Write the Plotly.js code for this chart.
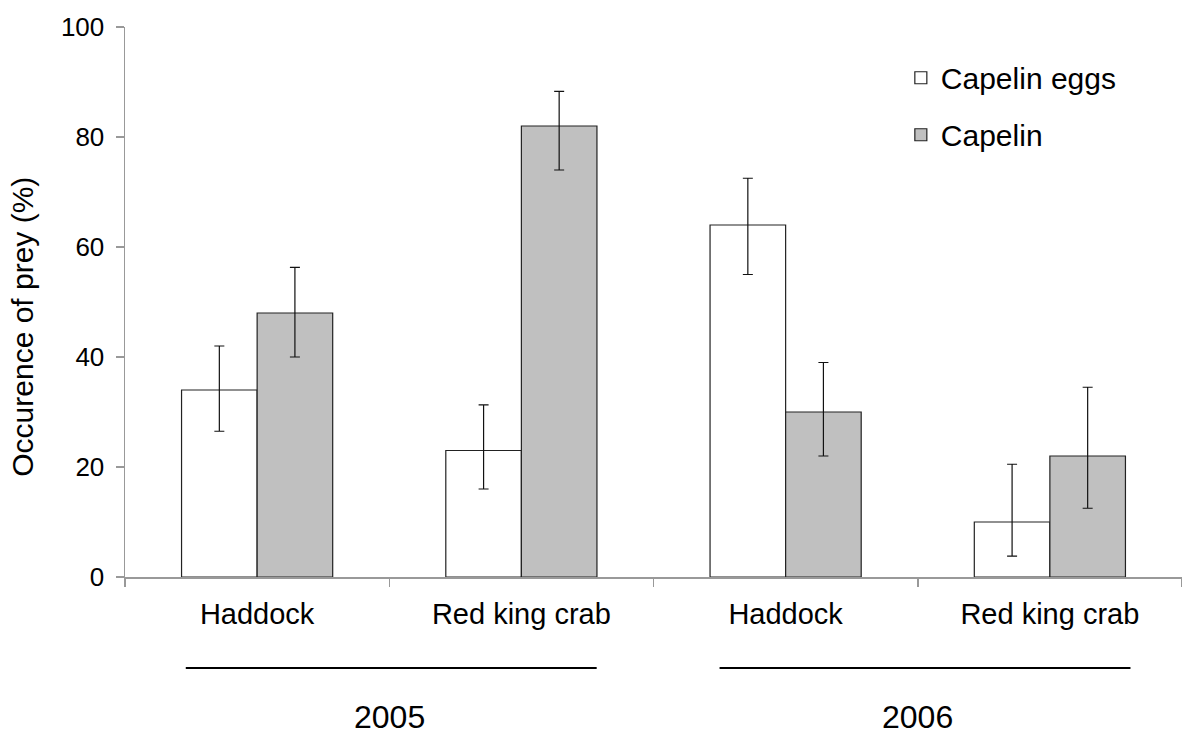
<!DOCTYPE html>
<html>
<head>
<meta charset="utf-8">
<script src="https://cdn.plot.ly/plotly-3.0.1.min.js"></script>
<style>html,body{margin:0;padding:0;background:#fff;}#chart{width:1182px;height:738px;}</style>
</head>
<body>
<div id="chart"></div>
<script>
// Data
const categories = ['Haddock', 'Red king crab', 'Haddock', 'Red king crab'];
const years = ['2005', '2005', '2006', '2006'];
const yearGroups = ['2005', '2006'];

const eggsValues = [34, 23, 64, 10];
const eggsErrPlus = [8, 8.3, 8.5, 10.5];
const eggsErrMinus = [7.5, 7, 9, 6.2];

const capelinValues = [48, 82, 30, 22];
const capelinErrPlus = [8.3, 6.3, 9, 12.5];
const capelinErrMinus = [8, 8, 8, 9.5];

const yTicks = [0, 20, 40, 60, 80, 100];
const yTitle = 'Occurence of prey (%)';

const keys = categories.map((c, i) => c + ' ' + years[i]);
const font = 'Liberation Sans, Arial, sans-serif';

const traces = [
  {
    type: 'bar', name: 'Capelin eggs', legendgroup: 'a',
    x: keys, y: eggsValues,
    marker: {color: '#ffffff', line: {color: '#222222', width: 1.2}},
    error_y: {type: 'data', symmetric: false, array: eggsErrPlus, arrayminus: eggsErrMinus,
              color: '#111111', thickness: 1.2, width: 5}
  },
  {
    type: 'bar', name: 'Capelin', legendgroup: 'b',
    x: keys, y: capelinValues,
    marker: {color: '#c0c0c0', line: {color: '#222222', width: 1.2}},
    error_y: {type: 'data', symmetric: false, array: capelinErrPlus, arrayminus: capelinErrMinus,
              color: '#111111', thickness: 1.2, width: 5}
  }
];

const shapes = [];
const annotations = [];
yearGroups.forEach((g, gi) => {
  const idx = years.map((y, i) => y === g ? i : -1).filter(i => i >= 0);
  const center = idx.reduce((a, b) => a + b, 0) / idx.length;
  const toPaper = v => (v + 0.5) / categories.length;
  const shift = gi * 0.02;
  shapes.push({type: 'line', xref: 'paper', yref: 'paper',
    x0: toPaper(center - 0.77 + shift), x1: toPaper(center + 0.785 + shift), y0: -0.1655, y1: -0.1655,
    line: {color: '#000', width: 2}});
  annotations.push({xref: 'paper', yref: 'paper', x: toPaper(center), y: -0.255,
    text: g, showarrow: false, xanchor: 'center', yanchor: 'middle',
    font: {family: font, size: 32, color: '#000'}});
});
annotations.push({xref: 'paper', yref: 'paper', x: -0.0965, y: 0.455,
  text: yTitle, textangle: -90, showarrow: false, xanchor: 'center', yanchor: 'middle',
  font: {family: font, size: 30, color: '#000'}});

const layout = {
  width: 1182, height: 738,
  margin: {l: 125, r: 0, t: 27, b: 161},
  paper_bgcolor: '#fff', plot_bgcolor: '#fff',
  barmode: 'group', bargap: 0.428, bargroupgap: 0,
  showlegend: true,
  legend: {x: 0.734, xanchor: 'left', y: 0.955, yanchor: 'top',
    font: {family: font, size: 30, color: '#000'},
    traceorder: 'grouped', tracegroupgap: 15, bgcolor: 'rgba(0,0,0,0)'},
  xaxis: {
    type: 'category', tickmode: 'array', tickvals: keys, ticktext: categories,
    tickson: 'boundaries', ticks: 'outside', ticklen: 8, tickcolor: '#999', tickwidth: 1.5,
    showline: true, linecolor: '#999', linewidth: 1.5, showgrid: false, zeroline: false,
    tickfont: {family: font, size: 29, color: '#000'}, ticklabelstandoff: 11,
    range: [-0.5, 3.5], fixedrange: true
  },
  yaxis: {
    range: [0, 100], tickmode: 'array', tickvals: yTicks,
    ticks: 'outside', ticklen: 8, tickcolor: '#999', tickwidth: 1.5,
    showline: true, linecolor: '#999', linewidth: 1.5, showgrid: false, zeroline: false,
    tickfont: {family: font, size: 26, color: '#000'}, ticklabelstandoff: 6,
    fixedrange: true
  },
  shapes: shapes,
  annotations: annotations
};

Plotly.newPlot('chart', traces, layout, {displayModeBar: false, staticPlot: true});
</script>
</body>
</html>
